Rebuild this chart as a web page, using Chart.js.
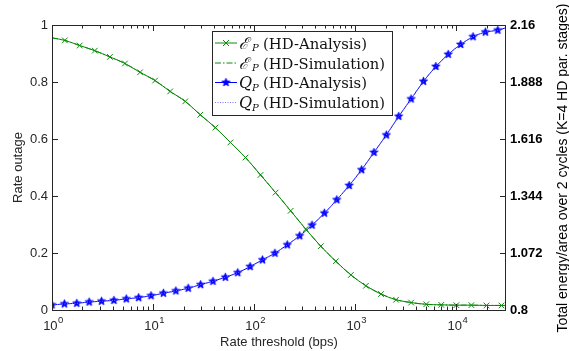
<!DOCTYPE html>
<html><head><meta charset="utf-8">
<script src="https://cdn.jsdelivr.net/npm/chart.js@4.4.1/dist/chart.umd.min.js"></script>
<style>html,body{margin:0;padding:0;background:#fff;overflow:hidden}canvas{display:block}</style>
</head><body>
<canvas id="c" width="569" height="351"></canvas>
<script>
// ---- data ----
const xTickValues = [1, 10, 100, 1000, 10000];
const xTickBase = '10';
const xTickExponents = ['0', '1', '2', '3', '4'];
const leftTicks = [0, 0.2, 0.4, 0.6, 0.8, 1];
const leftTickLabels = ['0', '0.2', '0.4', '0.6', '0.8', '1'];
const rightTicks = [0.8, 1.072, 1.344, 1.616, 1.888, 2.16];
const rightTickLabels = ['0.8', '1.072', '1.344', '1.616', '1.888', '2.16'];
const xMin = 1, xMax = 31000;

// E_P (rate outage, left axis)
const epX = [1, 1.34, 1.88, 2.65, 3.74, 5.27, 7.43, 10.47, 14.76, 20.8, 29.31, 41.3, 58.21, 82.04, 115.6,
  162.9, 229.6, 323.6, 456, 642.7, 905.7, 1276, 1799, 2535, 3573, 5035, 7096, 10000, 14093, 19861, 27990, 31000];
const epY = [0.955, 0.946, 0.928, 0.910, 0.888, 0.865, 0.834, 0.805, 0.767, 0.732, 0.685, 0.640, 0.588, 0.535, 0.474,
  0.412, 0.348, 0.284, 0.224, 0.171, 0.123, 0.085, 0.056, 0.036, 0.026, 0.020, 0.018, 0.017, 0.017, 0.016, 0.016, 0.016];

// Q_P (total energy/area, right axis)
const qpX = [1, 1.326, 1.758, 2.331, 3.09, 4.098, 5.433, 7.202, 9.55, 12.66, 16.79, 22.26, 29.51, 39.13, 51.88,
  68.79, 91.2, 120.9, 160.3, 212.6, 281.8, 373.7, 495.5, 656.9, 871, 1155, 1531, 2030, 2692, 3569, 4732, 6275,
  8318, 11030, 14622, 19387, 25704, 31000];
const qpY = [0.824, 0.829, 0.832, 0.838, 0.842, 0.846, 0.853, 0.859, 0.868, 0.880, 0.891, 0.904, 0.921, 0.937, 0.956,
  0.978, 1.007, 1.039, 1.071, 1.111, 1.154, 1.205, 1.262, 1.326, 1.394, 1.469, 1.552, 1.635, 1.724, 1.807, 1.891, 1.962,
  2.020, 2.067, 2.104, 2.126, 2.135, 2.147];

const legendNames = ['(HD-Analysis)', '(HD-Simulation)', '(HD-Analysis)', '(HD-Simulation)'];
const legendSymbols = ['ℰ', 'ℰ', 'Q', 'Q'];

// ---- styles ----
const GREEN = '#0a8a0a';
const BLUE = '#0000ff';
const LBLUE = '#7a7aff';
const AXIS = '#262626';
const SANS = '"Liberation Sans", Arial, sans-serif';

function starCanvas(color, r) {
  const s = Math.ceil(r * 2 + 2);
  const c = document.createElement('canvas');
  c.width = c.height = s;
  const g = c.getContext('2d');
  g.beginPath();
  for (let i = 0; i < 10; i++) {
    const a = -Math.PI / 2 + i * Math.PI / 5;
    const rr = i % 2 ? r * 0.45 : r;
    g.lineTo(s / 2 + rr * Math.cos(a), s / 2 + rr * Math.sin(a));
  }
  g.closePath();
  g.fillStyle = color; g.fill();
  g.strokeStyle = color; g.lineWidth = 0.8; g.stroke();
  return c;
}
const STAR = starCanvas(BLUE, 4.3);

const pts = (xs, ys) => xs.map((x, i) => ({x: x, y: ys[i]}));
const endsHidden = (xs, style) => xs.map((_, i) => (i === 0 || i === xs.length - 1) ? false : style);
const qpStyles = qpX.map((_, i) => i === qpX.length - 1 ? false : STAR);

// ---- plugins ----
const frameTicks = {
  id: 'frameTicks',
  afterDatasetsDraw(chart) {
    const {ctx, chartArea: a, scales} = chart;
    const sx = scales.x, yl = scales.y, yr = scales.y2;
    ctx.save();
    ctx.strokeStyle = AXIS; ctx.lineWidth = 1;
    ctx.strokeRect(Math.round(a.left) + 0.5, Math.round(a.top) + 0.5, Math.round(a.right - a.left) - 1, Math.round(a.bottom - a.top));
    ctx.beginPath();
    for (let d = 0; d <= 4; d++) {
      for (let m = 1; m <= 9; m++) {
        const v = m * Math.pow(10, d);
        if (v < xMin || v > xMax) continue;
        const px = Math.round(sx.getPixelForValue(v)) + 0.5;
        const L = m === 1 ? 6 : 3.5;
        ctx.moveTo(px, a.bottom); ctx.lineTo(px, a.bottom - L);
        ctx.moveTo(px, a.top); ctx.lineTo(px, a.top + L);
      }
    }
    leftTicks.forEach(v => {
      const py = Math.round(yl.getPixelForValue(v)) + 0.5;
      ctx.moveTo(a.left, py); ctx.lineTo(a.left + 6, py);
    });
    rightTicks.forEach(v => {
      const py = Math.round(yr.getPixelForValue(v)) + 0.5;
      ctx.moveTo(a.right, py); ctx.lineTo(a.right - 6, py);
    });
    ctx.stroke();

    // x tick labels with superscript exponents
    ctx.fillStyle = AXIS;
    ctx.textBaseline = 'alphabetic';
    xTickValues.forEach((v, i) => {
      const px = sx.getPixelForValue(v);
      ctx.font = '13px ' + SANS;
      const wb = ctx.measureText(xTickBase).width;
      ctx.font = '9.5px ' + SANS;
      const we = ctx.measureText(xTickExponents[i]).width;
      const x0 = px - (wb + we) / 2 + 1;
      ctx.textAlign = 'left';
      ctx.font = '13px ' + SANS;
      ctx.fillText(xTickBase, x0, a.bottom + 20);
      ctx.font = '9.5px ' + SANS;
      ctx.fillText(xTickExponents[i], x0 + wb + 0.5, a.bottom + 13);
    });
    ctx.restore();
  },
  afterDraw(chart) {
    const {ctx} = chart;
    // right axis title (reads bottom-to-top)
    ctx.save();
    ctx.translate(563.5, 168);
    ctx.rotate(-Math.PI / 2);
    ctx.fillStyle = '#000';
    ctx.font = '14px ' + SANS;
    ctx.textAlign = 'center'; ctx.textBaseline = 'middle';
    ctx.fillText('Total energy/area over 2 cycles (K=4 HD par. stages)', 0, 0);
    ctx.restore();

    // legend
    const bx = 212, by = 31, bw = 180, bh = 84;
    ctx.save();
    ctx.fillStyle = '#fff';
    ctx.fillRect(bx, by, bw, bh);
    ctx.strokeStyle = AXIS; ctx.lineWidth = 1;
    ctx.strokeRect(bx + 0.5, by + 0.5, bw, bh);
    const rows = [42.5, 62.5, 82, 102];
    const colors = [GREEN, GREEN, BLUE, LBLUE];
    const dashes = [[], [6, 2, 1.5, 2], [], [1, 1.5]];
    const targetW = [104, 122, 104, 122];
    rows.forEach((y, i) => {
      ctx.strokeStyle = colors[i]; ctx.lineWidth = 1;
      ctx.setLineDash(dashes[i]);
      ctx.beginPath(); ctx.moveTo(215, y + 0.5); ctx.lineTo(237, y + 0.5); ctx.stroke();
      ctx.setLineDash([]);
      if (i === 0) {
        ctx.beginPath();
        ctx.moveTo(223, y - 2.5); ctx.lineTo(229, y + 3.5);
        ctx.moveTo(229, y - 2.5); ctx.lineTo(223, y + 3.5);
        ctx.stroke();
      }
      if (i === 2) ctx.drawImage(STAR, 226 - STAR.width / 2, y + 0.5 - STAR.height / 2);
      ctx.fillStyle = '#111';
      ctx.textBaseline = 'alphabetic'; ctx.textAlign = 'left';
      ctx.font = 'italic 16px "DejaVu Serif", serif';
      ctx.fillText(legendSymbols[i], 239, y + 6);
      ctx.font = 'italic 10px "DejaVu Serif", serif';
      ctx.fillText('P', 252, y + 8.5);
      ctx.font = '14px "DejaVu Serif", "Liberation Serif", serif';
      const w = ctx.measureText(legendNames[i]).width;
      ctx.save();
      ctx.translate(263, y + 6);
      ctx.scale(targetW[i] / w, 1);
      ctx.fillText(legendNames[i], 0, 0);
      ctx.restore();
    });
    ctx.restore();
  }
};

const tickFont = {family: SANS, size: 13};

new Chart(document.getElementById('c'), {
  type: 'line',
  data: {
    datasets: [
      {label: 'ℰP (HD-Simulation)', data: pts(epX, epY), yAxisID: 'y', borderColor: GREEN, borderWidth: 1,
        borderDash: [6, 2, 1.5, 2], pointRadius: 0, cubicInterpolationMode: 'monotone', fill: false},
      {label: 'QP (HD-Simulation)', data: pts(qpX, qpY), yAxisID: 'y2', borderColor: LBLUE, borderWidth: 1,
        borderDash: [1, 1.5], pointRadius: 0, cubicInterpolationMode: 'monotone', fill: false},
      {label: 'ℰP (HD-Analysis)', data: pts(epX, epY), yAxisID: 'y', borderColor: GREEN, borderWidth: 1,
        pointStyle: endsHidden(epX, 'crossRot'), pointRadius: 4, pointBorderColor: GREEN, pointBorderWidth: 1,
        cubicInterpolationMode: 'monotone', fill: false},
      {label: 'QP (HD-Analysis)', data: pts(qpX, qpY), yAxisID: 'y2', borderColor: BLUE, borderWidth: 1,
        pointStyle: qpStyles, pointRadius: 4.3, pointBackgroundColor: BLUE, pointBorderColor: BLUE,
        cubicInterpolationMode: 'monotone', fill: false}
    ]
  },
  options: {
    responsive: false,
    animation: false,
    devicePixelRatio: 1,
    layout: {padding: {top: 25, left: 0, right: 0, bottom: 0}},
    plugins: {legend: {display: false}, tooltip: {enabled: false}},
    scales: {
      x: {
        type: 'logarithmic', position: 'bottom', min: xMin, max: xMax,
        grid: {display: false, drawTicks: false}, border: {display: false},
        afterBuildTicks: s => { s.ticks = xTickValues.map(v => ({value: v})); },
        afterFit: s => { s.height = 41; },
        ticks: {display: false, autoSkip: false, maxRotation: 0},
        title: {display: true, text: 'Rate threshold (bps)', color: AXIS, font: tickFont, padding: {top: 0, bottom: 1}}
      },
      y: {
        type: 'linear', position: 'left', min: 0, max: 1,
        grid: {display: false, drawTicks: false}, border: {display: false},
        afterBuildTicks: s => { s.ticks = leftTicks.map(v => ({value: v})); },
        afterFit: s => { s.width = 52; },
        ticks: {padding: 4, color: AXIS, font: tickFont,
          callback: (v) => { const i = leftTicks.findIndex(t => Math.abs(t - v) < 1e-6); return i >= 0 ? leftTickLabels[i] : ''; }},
        title: {display: true, text: 'Rate outage', color: AXIS, font: tickFont, padding: {top: 11, bottom: 0}}
      },
      y2: {
        type: 'linear', position: 'right', min: 0.8, max: 2.16,
        grid: {display: false, drawTicks: false}, border: {display: false},
        afterBuildTicks: s => { s.ticks = rightTicks.map(v => ({value: v})); },
        afterFit: s => { s.width = 63; },
        ticks: {padding: 4, color: '#000', font: {family: SANS, size: 13, weight: 'bold'},
          callback: (v) => { const i = rightTicks.findIndex(t => Math.abs(t - v) < 1e-6); return i >= 0 ? rightTickLabels[i] : ''; }}
      }
    }
  },
  plugins: [frameTicks]
});
</script>
</body></html>
